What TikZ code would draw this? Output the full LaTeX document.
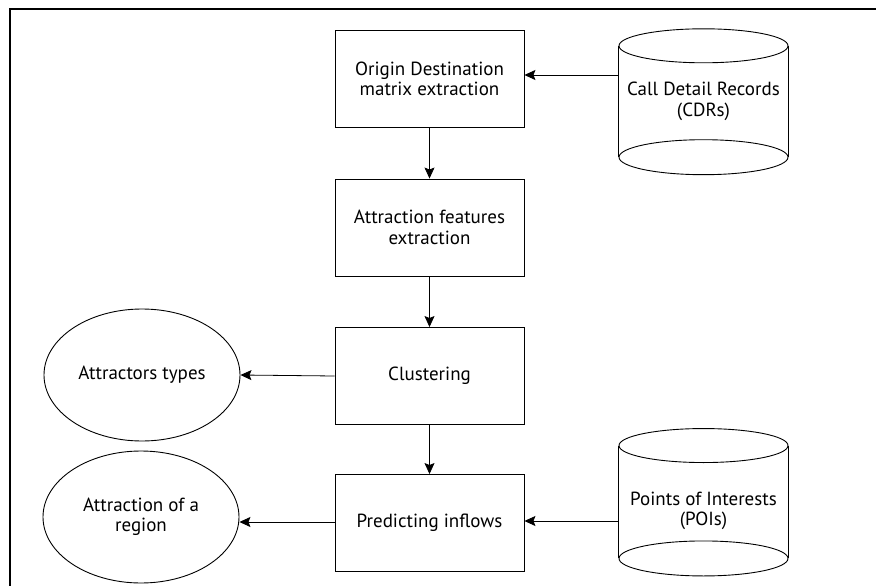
\documentclass[tikz,border=0pt]{standalone}
\usepackage{fontspec}
\setmainfont{PT Sans}
\usetikzlibrary{arrows.meta,shapes.geometric,calc}
\begin{document}
\begin{tikzpicture}[x=1pt,y=-1pt,
  every node/.style={font=\fontsize{19}{20.5}\selectfont, align=center, inner sep=0pt},
  proc/.style={draw, line width=0.9pt, minimum width=189pt, minimum height=97pt},
  oval/.style={draw, ellipse, line width=0.9pt, minimum width=196pt, minimum height=132pt},
  cylbody/.style={minimum width=169pt},
  arr/.style={line width=0.8pt, -{Stealth[length=11pt,width=10pt,inset=2pt]}}
]
\useasboundingbox (0,0) rectangle (876,586);
\draw[line width=1.6pt] (876,9) -- (10,9) -- (10,586);

\node[proc] (od) at (429.5,79) {Origin Destination\\matrix extraction};
\node[proc] (af) at (429.5,227.5) {Attraction features\\extraction};
\node[proc] (cl) at (429.5,376) {Clustering};
\node[proc] (pi) at (429.5,523) {Predicting inflows};

\node[oval] (at) at (142,375) {Attractors types};
\node[oval] (ar) at (141,517) {Attraction of a\\region};

% CDR cylinder
\node[cylbody, minimum height=111pt] (cdr) at (703.5,101.5) {Call Detail Records\\(CDRs)};
\draw[line width=0.9pt] (cdr.north west) -- (cdr.south west) (cdr.north east) -- (cdr.south east);
\draw[line width=0.9pt] (cdr.north) ellipse [x radius=84.5pt, y radius=17pt];
\draw[line width=0.9pt] (cdr.south) ellipse [x radius=84.5pt, y radius=17.5pt];

% POI cylinder
\node[cylbody, minimum height=112.5pt] (poi) at (703.5,502) {};
\node (poitext) at (703.5,511) {Points of Interests\\(POIs)};
\draw[line width=0.9pt] (poi.north west) -- (poi.south west) (poi.north east) -- (poi.south east);
\draw[line width=0.9pt] (poi.north) ellipse [x radius=84.5pt, y radius=17pt];
\draw[line width=0.9pt] (poi.south) ellipse [x radius=84.5pt, y radius=17.5pt];

\draw[arr] ([yshift=4pt]od.east -| cdr.west) -- ([yshift=4pt]od.east);
\draw[arr] (od) -- (af);
\draw[arr] (af) -- (cl);
\draw[arr] (cl) -- (pi);
\draw[arr] (cl.west) -- (at.east);
\draw[arr] ([yshift=1pt]pi.west) -- ([yshift=1pt]pi.west -| ar.east);
\draw[arr] ([yshift=2pt]pi.east -| poi.west) -- ([yshift=2pt]pi.east);
\end{tikzpicture}
\end{document}
